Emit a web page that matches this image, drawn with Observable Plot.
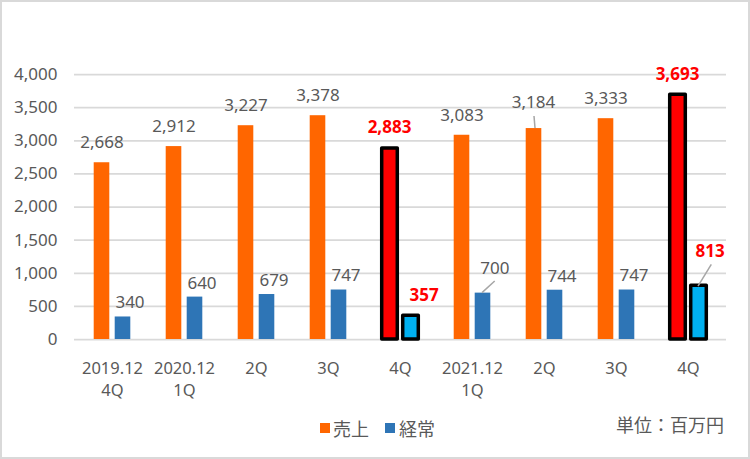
<!DOCTYPE html>
<html>
<head>
<meta charset="utf-8">
<script src="https://cdn.jsdelivr.net/npm/d3@7"></script>
<script src="https://cdn.jsdelivr.net/npm/@observablehq/plot@0.6"></script>
<style>
  body { margin: 0; background: #fff; }
  #wrap { position: relative; width: 750px; height: 459px; overflow: hidden; background: #fff;
          font-family: "Noto Sans", "Noto Sans CJK JP", sans-serif; color: #595959; }
  #chart { position: absolute; left: 0; top: 0; }
  #frame { position: absolute; left: 0; top: 0; width: 750px; height: 459px; box-sizing: border-box;
           border: 2px solid #d9d9d9; pointer-events: none; }
  .sw { position: absolute; width: 10px; height: 10px; top: 423px; }
  .lt { position: absolute; font-size: 18px; line-height: 18px; white-space: nowrap;
        font-family: "Noto Sans CJK JP", sans-serif; }
</style>
</head>
<body>
<div id="wrap">
  <div id="chart"></div>
  <div class="sw" style="left:320px;background:#FF6600"></div>
  <div class="lt" id="lg0" style="left:333px;top:419px"></div>
  <div class="sw" style="left:385px;background:#2E75B6"></div>
  <div class="lt" id="lg1" style="left:399px;top:419px"></div>
  <div class="lt" id="unit" style="left:616px;top:415px"></div>
  <div id="frame"></div>
</div>
<script>
// ---- data ----
const periods = ["2019.12\n4Q", "2020.12\n1Q", "2Q", "3Q", "4Q", "2021.12\n1Q", "2Q", "3Q", "4Q"];
const seriesNames = ["売上", "経常"];
const sales = [2668, 2912, 3227, 3378, 2883, 3083, 3184, 3333, 3693];
const ordinary = [340, 640, 679, 747, 357, 700, 744, 747, 813];
const highlighted = [4, 8];
const yTicks = [0, 500, 1000, 1500, 2000, 2500, 3000, 3500, 4000];
const unitLabel = "単位：百万円";

// ---- table ----
const rows = periods.flatMap((p, i) => [
  {i, series: seriesNames[0], value: sales[i], hl: highlighted.includes(i)},
  {i, series: seriesNames[1], value: ordinary[i], hl: highlighted.includes(i)}
]);

// label callouts with leader lines (layout, in px relative to band centre / bar top)
const callouts = [
  {series: seriesNames[1], i: 5, from: [10, 0], to: [22.7, -11.6], label: [22.4, -25]},
  {series: seriesNames[0], i: 6, from: [-9, 0], to: [-10, -12], label: [-11, -26.4]},
  {series: seriesNames[1], i: 8, from: [10, 1], to: [23.3, -20.7], label: [21.7, -34]}
];
const isCallout = d => callouts.some(c => c.series === d.series && c.i === d.i);

const fmt = d3.format(",");
const S0 = d => d.series === seriesNames[0];
const S1 = d => d.series === seriesNames[1];

const orangeIn = {insetLeft: 17.7, insetRight: 38.7};
const blueIn = {insetLeft: 38.7, insetRight: 17.7};

function leaderMark(index, scales) {
  const g = d3.create("svg:g").attr("stroke", "#a6a6a6").attr("stroke-width", 1.5).attr("fill", "none");
  const bw = scales.x.bandwidth ? scales.x.bandwidth() : 0;
  for (const c of callouts) {
    const v = (c.series === seriesNames[0] ? sales : ordinary)[c.i];
    const cx = scales.x(c.i) + bw / 2, cy = scales.y(v);
    g.append("line")
      .attr("x1", cx + c.from[0]).attr("y1", cy + c.from[1])
      .attr("x2", cx + c.to[0]).attr("y2", cy + c.to[1]);
  }
  return g.node();
}

const labelBase = {x: "i", y: "value", text: d => fmt(d.value), fontSize: 17};

const plot = Plot.plot({
  width: 750,
  height: 459,
  marginLeft: 74,
  marginRight: 24,
  marginTop: 74,
  marginBottom: 120,
  style: {fontFamily: '"Noto Sans", "Noto Sans CJK JP", sans-serif', fontSize: "17px", color: "#595959", background: "transparent"},
  x: {type: "band", domain: periods.map((p, i) => i), padding: 0, axis: null},
  y: {domain: [0, 4000], ticks: yTicks, tickSize: 0, tickPadding: 17, tickFormat: fmt, label: null},
  marks: [
    Plot.ruleY(yTicks, {stroke: "#d9d9d9", strokeWidth: 1.75}),
    Plot.barY(rows.filter(d => S0(d) && !d.hl), {x: "i", y: "value", fill: "#FF6600", ...orangeIn}),
    Plot.barY(rows.filter(d => S1(d) && !d.hl), {x: "i", y: "value", fill: "#2E75B6", ...blueIn}),
    Plot.barY(rows.filter(d => S0(d) && d.hl), {x: "i", y: "value", fill: "#FF0000", stroke: "#000", strokeWidth: 3.5, strokeLinejoin: "round", ...orangeIn}),
    Plot.barY(rows.filter(d => S1(d) && d.hl), {x: "i", y: "value", fill: "#00B0F0", stroke: "#000", strokeWidth: 3.5, strokeLinejoin: "round", ...blueIn}),
    // normal labels
    Plot.text(rows.filter(d => S0(d) && !d.hl && !isCallout(d)), {...labelBase, dx: -10.5, dy: -20, fill: "#595959"}),
    Plot.text(rows.filter(d => S1(d) && !d.hl && !isCallout(d)), {...labelBase, dx: 17.5, dy: -14, fill: "#595959"}),
    // highlighted labels
    Plot.text(rows.filter(d => S0(d) && d.hl && !isCallout(d)), {...labelBase, dx: -11, dy: -20.5, fill: "#FF0000", fontWeight: "bold"}),
    Plot.text(rows.filter(d => S1(d) && d.hl && !isCallout(d)), {...labelBase, dx: 23.7, dy: -20, fill: "#FF0000", fontWeight: "bold"}),
    // callout labels
    ...callouts.map(c => Plot.text(rows.filter(d => d.series === c.series && d.i === c.i),
      {...labelBase, dx: c.label[0], dy: c.label[1],
       fill: highlighted.includes(c.i) ? "#FF0000" : "#595959",
       fontWeight: highlighted.includes(c.i) ? "bold" : "normal"})),
    leaderMark,
    // x labels
    Plot.text(periods.map((p, i) => ({i, p})), {x: "i", text: "p", frameAnchor: "bottom", lineAnchor: "top", dy: 19, lineHeight: 1.33, fontSize: 16.5, fill: "#595959"})
  ]
});
document.getElementById("chart").appendChild(plot);
document.getElementById("lg0").textContent = seriesNames[0];
document.getElementById("lg1").textContent = seriesNames[1];
document.getElementById("unit").textContent = unitLabel;
</script>
</body>
</html>
